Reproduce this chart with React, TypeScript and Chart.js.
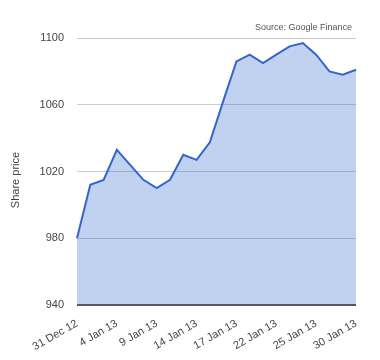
import React, { useEffect, useRef } from "react";
import { Chart, registerables } from "chart.js";

Chart.register(...registerables);

const dates: string[] = [
  "31 Dec 12", "2 Jan 13", "3 Jan 13", "4 Jan 13", "7 Jan 13", "8 Jan 13",
  "9 Jan 13", "10 Jan 13", "11 Jan 13", "14 Jan 13", "15 Jan 13", "16 Jan 13",
  "17 Jan 13", "18 Jan 13", "21 Jan 13", "22 Jan 13", "23 Jan 13", "24 Jan 13",
  "25 Jan 13", "28 Jan 13", "29 Jan 13", "30 Jan 13",
];

const prices: number[] = [
  980, 1012, 1015, 1033, 1024, 1015, 1010, 1015, 1030, 1027, 1037.5,
  1062, 1086, 1090, 1085, 1090, 1095, 1097, 1090, 1080, 1078, 1081,
];

const yTicks: number[] = [940, 980, 1020, 1060, 1100];
const labelEvery = 3;
const yTitle = "Share price";
const sourceText = "Source: Google Finance";

const FONT = "Arial, 'Liberation Sans', sans-serif";

export default function App() {
  const ref = useRef<HTMLCanvasElement | null>(null);

  useEffect(() => {
    if (!ref.current) return;
    const textPlugin = {
      id: "texts",
      afterDatasetsDraw(chart: any) {
        const { ctx, chartArea } = chart;
        ctx.save();
        ctx.strokeStyle = "#333";
        ctx.lineWidth = 1.5;
        ctx.beginPath();
        ctx.moveTo(chartArea.left, chartArea.bottom);
        ctx.lineTo(chartArea.right, chartArea.bottom);
        ctx.stroke();
        ctx.fillStyle = "#555";
        ctx.font = `9px ${FONT}`;
        ctx.textAlign = "right";
        ctx.textBaseline = "alphabetic";
        ctx.fillText(sourceText, chartArea.right - 4, chartArea.top - 8);
        ctx.translate(16, 180);
        ctx.rotate(-Math.PI / 2);
        ctx.fillStyle = "#444";
        ctx.font = `11px ${FONT}`;
        ctx.textAlign = "center";
        ctx.textBaseline = "middle";
        ctx.fillText(yTitle, 0, 0);
        ctx.restore();
      },
    };

    const chart = new Chart(ref.current, {
      type: "line",
      data: {
        labels: dates,
        datasets: [
          {
            data: prices,
            borderColor: "#3366cc",
            backgroundColor: "rgba(51,102,204,0.3)",
            borderWidth: 2,
            pointRadius: 0,
            tension: 0,
            fill: "start",
          },
        ],
      },
      options: {
        responsive: false,
        animation: false,
        layout: { padding: { left: 0, right: 24, top: 38, bottom: 0 } },
        plugins: {
          legend: { display: false },
          tooltip: { enabled: false },
        },
        scales: {
          x: {
            type: "category",
            grid: { display: false, drawTicks: false },
            border: { display: false },
            afterFit: (scale: any) => {
              scale.height = 55;
            },
            ticks: {
              autoSkip: false,
              minRotation: 30,
              maxRotation: 30,
              padding: 12,
              color: "#444",
              font: { family: FONT, size: 11 },
              callback: (_v: any, i: number) =>
                i % labelEvery === 0 ? dates[i] : null,
            },
          },
          y: {
            min: yTicks[0],
            max: yTicks[yTicks.length - 1],
            afterFit: (scale: any) => {
              scale.width = 77;
            },
            afterBuildTicks: (scale: any) => {
              scale.ticks = yTicks.map((v) => ({ value: v }));
            },
            grid: { color: "#ccc", drawTicks: false },
            border: { display: false },
            ticks: {
              padding: 13,
              color: "#444",
              font: { family: FONT, size: 11 },
              callback: (v: any) => String(v),
            },
          },
        },
      },
      plugins: [textPlugin],
    });
    return () => chart.destroy();
  }, []);

  return (
    <div style={{ position: "absolute", left: 0, top: 0, width: 380, height: 360, background: "#fff" }}>
      <canvas ref={ref} width={380} height={360} style={{ display: "block" }} />
    </div>
  );
}
